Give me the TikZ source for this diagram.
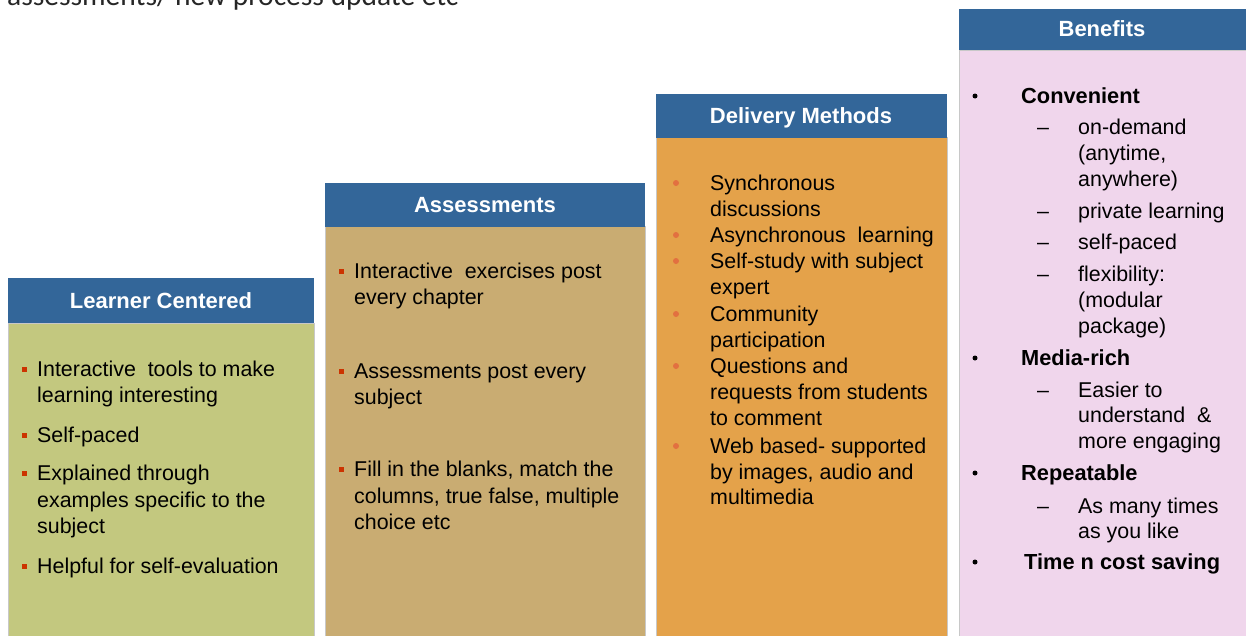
\documentclass[tikz,border=0pt]{standalone}
\usepackage{fontspec}
\setmainfont{Liberation Sans}
\newfontfamily\topfont{Carlito}
\definecolor{hdrblue}{RGB}{51,102,153}
\definecolor{olivebg}{RGB}{195,200,127}
\definecolor{tanbg}{RGB}{201,172,114}
\definecolor{orangebg}{RGB}{228,162,74}
\definecolor{pinkbg}{RGB}{240,214,236}
\definecolor{bulletred}{RGB}{204,51,0}
\definecolor{bulletorange}{RGB}{226,112,64}
\definecolor{edgegrey}{RGB}{200,200,200}
\begin{document}
\begin{tikzpicture}[x=1pt,y=-1pt,
  hdr/.style={fill=hdrblue,draw=none},
  hdrtext/.style={text=white,font=\fontsize{22}{26}\selectfont\bfseries,inner sep=0pt,anchor=base},
  body/.style={draw=edgegrey,line width=1pt},
  txt/.style={font=\fontsize{21.4}{26}\selectfont,text=black,inner sep=0pt,anchor=base west},
  btxt/.style={txt,font=\fontsize{21.8}{26}\selectfont\bfseries},
  sqbullet/.style={fill=bulletred,draw=none,minimum size=5pt,inner sep=0pt},
  dotbullet/.style={circle,fill=bulletorange,draw=none,minimum size=6pt,inner sep=0pt},
  blkbullet/.style={circle,fill=black,draw=none,minimum size=5pt,inner sep=0pt},
  dashtxt/.style={txt,anchor=base}
]
\useasboundingbox (0,0) rectangle (1246,635);
\fill[white] (0,0) rectangle (1246,635);

% cut-off text at the top
\begin{scope}
\clip (0,0) rectangle (1246,635);
\node[font=\topfont\fontsize{29.5}{34}\selectfont,inner sep=0pt,anchor=base west,text=black!85] (toptext) at (7,5) {assessments/ new process update etc};
\end{scope}

% ---------- Box 1: Learner Centered ----------
\draw[body,fill=olivebg] (8,323) rectangle (314,640);
\node[hdr,minimum width=306pt,minimum height=45pt,anchor=north west] (h1) at (8,278) {};
\node[hdrtext] (h1t) at (161,308) {Learner Centered};
\node[sqbullet] (b1a) at (24,369) {};
\node[txt] (t1a) at (37,376) {Interactive\ \ tools to make};
\node[txt] (t1b) at (37,402) {learning interesting};
\node[sqbullet] (b1b) at (24,435) {};
\node[txt] (t1c) at (37,442) {Self-paced};
\node[sqbullet] (b1c) at (24,473) {};
\node[txt] (t1d) at (37,480) {Explained through};
\node[txt] (t1e) at (37,507) {examples specific to the};
\node[txt] (t1f) at (37,533) {subject};
\node[sqbullet] (b1d) at (24,566) {};
\node[txt] (t1g) at (37,573) {Helpful for self-evaluation};

% ---------- Box 2: Assessments ----------
\draw[body,fill=tanbg] (325,226) rectangle (645,640);
\node[hdr,minimum width=320pt,minimum height=44pt,anchor=north west] (h2) at (325,182.5) {};
\node[hdrtext] (h2t) at (485,212) {Assessments};
\node[sqbullet] (b2a) at (341,271) {};
\node[txt] (t2a) at (354,278) {Interactive\ \ exercises post};
\node[txt] (t2b) at (354,304) {every chapter};
\node[sqbullet] (b2b) at (341,371) {};
\node[txt] (t2c) at (354,378) {Assessments post every};
\node[txt] (t2d) at (354,404) {subject};
\node[sqbullet] (b2c) at (341,469) {};
\node[txt] (t2e) at (354,476) {Fill in the blanks, match the};
\node[txt] (t2f) at (354,503) {columns, true false, multiple};
\node[txt] (t2g) at (354,529) {choice etc};

% ---------- Box 3: Delivery Methods ----------
\draw[body,fill=orangebg] (656,137) rectangle (947,640);
\node[hdr,minimum width=291pt,minimum height=44pt,anchor=north west] (h3) at (656,93.5) {};
\node[hdrtext] (h3t) at (801,123) {Delivery Methods};
\node[dotbullet] (b3a) at (676,183) {};
\node[txt] (t3a) at (710,190) {Synchronous};
\node[txt] (t3b) at (710,216) {discussions};
\node[dotbullet] (b3b) at (676,235) {};
\node[txt] (t3c) at (710,242) {Asynchronous\ \ learning};
\node[dotbullet] (b3c) at (676,261) {};
\node[txt] (t3d) at (710,268) {Self-study with subject};
\node[txt] (t3e) at (710,294) {expert};
\node[dotbullet] (b3d) at (676,314) {};
\node[txt] (t3f) at (710,321) {Community};
\node[txt] (t3g) at (710,347) {participation};
\node[dotbullet] (b3e) at (676,366) {};
\node[txt] (t3h) at (710,373) {Questions and};
\node[txt] (t3i) at (710,399) {requests from students};
\node[txt] (t3j) at (710,425) {to comment};
\node[dotbullet] (b3f) at (676,446) {};
\node[txt] (t3k) at (710,453) {Web based- supported};
\node[txt] (t3l) at (710,479) {by images, audio and};
\node[txt] (t3m) at (710,504) {multimedia};

% ---------- Box 4: Benefits ----------
\draw[body,fill=pinkbg] (959,50) rectangle (1250,640);
\node[hdr,minimum width=290pt,minimum height=41pt,anchor=north west] (h4) at (959,9) {};
\node[hdrtext] (h4t) at (1102,36) {Benefits};
\node[blkbullet] (b4a) at (975,96) {};
\node[btxt] (t4a) at (1021,103) {Convenient};
\node[dashtxt] (d4a) at (1043,134) {--};
\node[txt] (t4b) at (1078,134) {on-demand};
\node[txt] (t4c) at (1078,160) {(anytime,};
\node[txt] (t4d) at (1078,186) {anywhere)};
\node[dashtxt] (d4b) at (1043,218) {--};
\node[txt] (t4e) at (1078,218) {private learning};
\node[dashtxt] (d4c) at (1043,249) {--};
\node[txt] (t4f) at (1078,249) {self-paced};
\node[dashtxt] (d4d) at (1043,281) {--};
\node[txt] (t4g) at (1078,281) {flexibility:};
\node[txt] (t4h) at (1078,307) {(modular};
\node[txt] (t4i) at (1078,333) {package)};
\node[blkbullet] (b4b) at (975,358) {};
\node[btxt] (t4j) at (1021,365) {Media-rich};
\node[dashtxt] (d4e) at (1043,397) {--};
\node[txt] (t4k) at (1078,397) {Easier to};
\node[txt] (t4l) at (1078,422) {understand\ \ \&};
\node[txt] (t4m) at (1078,448) {more engaging};
\node[blkbullet] (b4c) at (975,473) {};
\node[btxt] (t4n) at (1021,480) {Repeatable};
\node[dashtxt] (d4f) at (1043,513) {--};
\node[txt] (t4o) at (1078,513) {As many\ times};
\node[txt] (t4p) at (1078,538) {as you like};
\node[blkbullet] (b4d) at (975,562) {};
\node[btxt] (t4q) at (1024,569) {Time n cost saving};
\end{tikzpicture}
\end{document}
